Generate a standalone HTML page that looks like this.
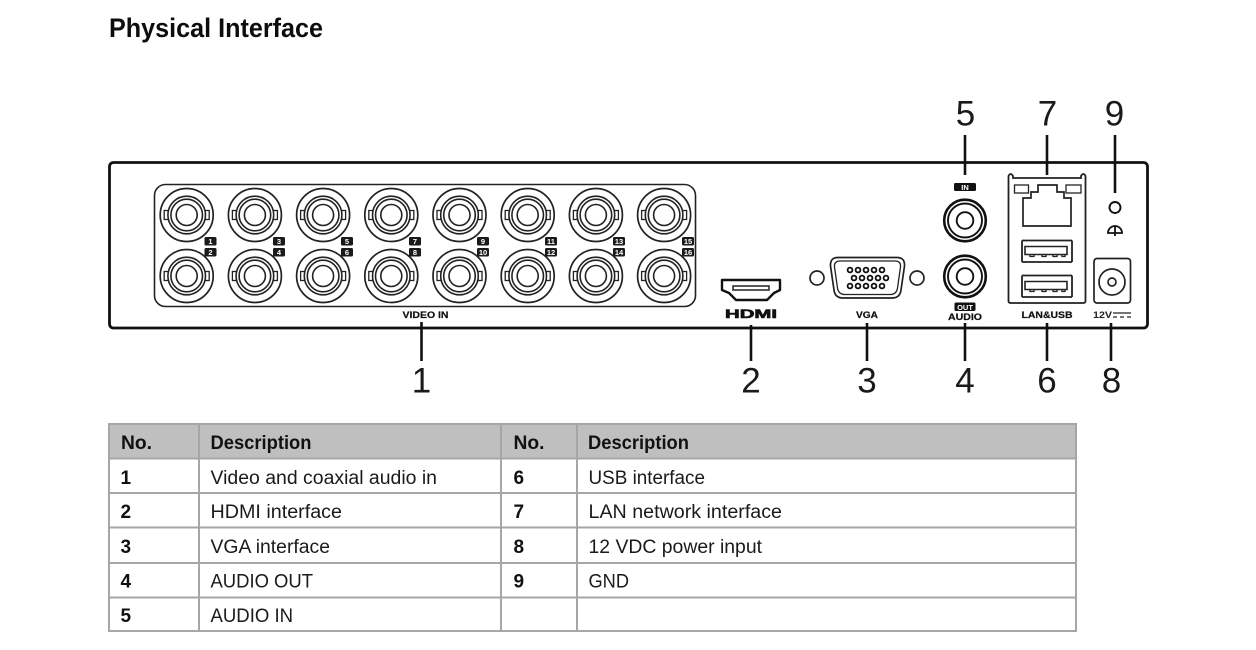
<!DOCTYPE html>
<html><head><meta charset="utf-8"><style>
html,body{margin:0;padding:0;background:#fff;width:1256px;height:650px;overflow:hidden}
svg{display:block}
text{font-family:"Liberation Sans",sans-serif;fill:#111}
.n{font-size:35px;text-anchor:middle;fill:#1a1a1a}
.b{font-weight:bold}
.t{font-size:19px;fill:#1a1a1a}
.h{font-size:19px;font-weight:bold;fill:#111}
.sm{font-size:9px;font-weight:bold;text-anchor:middle;fill:#111;stroke:#111;stroke-width:.2}
.w{font-size:7.5px;font-weight:bold;fill:#fff;text-anchor:middle}
.l{stroke:#111;stroke-width:2.6;fill:none}
.s{stroke:#222;stroke-width:1.7;fill:none}
.g{stroke:#a6a6a6;stroke-width:2;fill:none}
</style></head><body>
<svg width="1256" height="650" viewBox="0 0 1256 650" xmlns="http://www.w3.org/2000/svg">
<defs>
<g id="bnc" fill="none" stroke="#222">
<circle r="26.5" stroke-width="1.7"/>
<rect x="-22.5" y="-4.5" width="4" height="9" stroke-width="1.3"/>
<rect x="18.5" y="-4.5" width="4" height="9" stroke-width="1.3"/>
<circle r="18.8" stroke-width="1.6" fill="#fff"/>
<circle r="15.8" stroke-width="1.6"/>
<circle r="10.5" stroke-width="1.6"/>
</g>
<g id="rca" fill="none" stroke="#111">
<circle r="20.8" stroke-width="2.6"/>
<circle r="17" stroke-width="1.9"/>
<circle r="8.3" stroke-width="1.9"/>
</g>
<g id="usb" fill="none" stroke="#222">
<path d="M0 0H50M0 0V21.5M50 0V21.5M0 21.5H50" stroke-width="1.8"/>
<path d="M3 6H45V14H3Z" stroke-width="1.6"/>
<path d="M8 14v2h4v-2M20 14v2h4v-2M31 14v2h4v-2M40 14v2h3v-2" stroke-width="1.3"/>
</g>
</defs>

<text x="109" y="37" font-size="27" font-weight="bold" textLength="214" lengthAdjust="spacingAndGlyphs" style="fill:#0d0d0d">Physical Interface</text>

<rect x="109.5" y="162.5" width="1038" height="165.5" rx="4" fill="none" stroke="#111" stroke-width="2.8"/>
<rect x="154.5" y="184.5" width="541" height="122" rx="11" fill="none" stroke="#222" stroke-width="1.6"/>

<!-- BNC -->
<use href="#bnc" x="186.7" y="215"/><use href="#bnc" x="186.7" y="276"/>
<use href="#bnc" x="254.9" y="215"/><use href="#bnc" x="254.9" y="276"/>
<use href="#bnc" x="323.1" y="215"/><use href="#bnc" x="323.1" y="276"/>
<use href="#bnc" x="391.3" y="215"/><use href="#bnc" x="391.3" y="276"/>
<use href="#bnc" x="459.5" y="215"/><use href="#bnc" x="459.5" y="276"/>
<use href="#bnc" x="527.7" y="215"/><use href="#bnc" x="527.7" y="276"/>
<use href="#bnc" x="595.9" y="215"/><use href="#bnc" x="595.9" y="276"/>
<use href="#bnc" x="664.1" y="215"/><use href="#bnc" x="664.1" y="276"/>

<!-- channel badges -->
<g fill="#1a1a1a">
<rect x="204.5" y="237" width="12" height="8.5" rx="1.5"/><rect x="204.5" y="248" width="12" height="8.5" rx="1.5"/>
<rect x="273" y="237" width="12" height="8.5" rx="1.5"/><rect x="273" y="248" width="12" height="8.5" rx="1.5"/>
<rect x="341" y="237" width="12" height="8.5" rx="1.5"/><rect x="341" y="248" width="12" height="8.5" rx="1.5"/>
<rect x="409" y="237" width="12" height="8.5" rx="1.5"/><rect x="409" y="248" width="12" height="8.5" rx="1.5"/>
<rect x="477" y="237" width="12" height="8.5" rx="1.5"/><rect x="477" y="248" width="12" height="8.5" rx="1.5"/>
<rect x="545" y="237" width="12" height="8.5" rx="1.5"/><rect x="545" y="248" width="12" height="8.5" rx="1.5"/>
<rect x="613" y="237" width="12" height="8.5" rx="1.5"/><rect x="613" y="248" width="12" height="8.5" rx="1.5"/>
<rect x="682" y="237" width="12" height="8.5" rx="1.5"/><rect x="682" y="248" width="12" height="8.5" rx="1.5"/>
</g>
<g>
<text class="w" x="210.5" y="244.2">1</text><text class="w" x="210.5" y="255.2">2</text>
<text class="w" x="279" y="244.2">3</text><text class="w" x="279" y="255.2">4</text>
<text class="w" x="347" y="244.2">5</text><text class="w" x="347" y="255.2">6</text>
<text class="w" x="415" y="244.2">7</text><text class="w" x="415" y="255.2">8</text>
<text class="w" x="483" y="244.2">9</text><text class="w" x="483" y="255.2">10</text>
<text class="w" x="551" y="244.2">11</text><text class="w" x="551" y="255.2">12</text>
<text class="w" x="619" y="244.2">13</text><text class="w" x="619" y="255.2">14</text>
<text class="w" x="688" y="244.2">15</text><text class="w" x="688" y="255.2">16</text>
</g>

<text class="sm" x="425.5" y="318" textLength="46" lengthAdjust="spacingAndGlyphs">VIDEO IN</text>

<!-- HDMI -->
<path d="M722 280H780V290L774 293L767 300H736L729 293L722 290Z" fill="none" stroke="#111" stroke-width="2.4" stroke-linejoin="round"/>
<rect x="733" y="286" width="36" height="4" fill="none" stroke="#222" stroke-width="1.5"/>
<text x="725" y="318" font-size="12" font-weight="900" textLength="52" lengthAdjust="spacingAndGlyphs" style="fill:#111;stroke:#111;stroke-width:.6">HDMI</text>

<!-- VGA -->
<circle cx="817" cy="278" r="7" class="s"/>
<circle cx="917" cy="278" r="7" class="s"/>
<path d="M838 257.5H897Q905 257.5 904.5 266L901 290Q900 298 892 298H843Q835 298 834 290L830.5 266Q830 257.5 838 257.5Z" class="s"/>
<path d="M840 261H895Q901 261 900.5 267L897.5 288Q896.5 294.5 890 294.5H845Q838.5 294.5 837.5 288L834.5 267Q834 261 840 261Z" class="s" style="stroke-width:1.3"/>
<g fill="none" stroke="#111" stroke-width="1.8">
<circle cx="850" cy="270" r="2.4"/><circle cx="858" cy="270" r="2.4"/><circle cx="866" cy="270" r="2.4"/><circle cx="874" cy="270" r="2.4"/><circle cx="882" cy="270" r="2.4"/>
<circle cx="854" cy="278" r="2.4"/><circle cx="862" cy="278" r="2.4"/><circle cx="870" cy="278" r="2.4"/><circle cx="878" cy="278" r="2.4"/><circle cx="886" cy="278" r="2.4"/>
<circle cx="850" cy="286" r="2.4"/><circle cx="858" cy="286" r="2.4"/><circle cx="866" cy="286" r="2.4"/><circle cx="874" cy="286" r="2.4"/><circle cx="882" cy="286" r="2.4"/>
</g>
<text class="sm" x="867" y="318" textLength="22" lengthAdjust="spacingAndGlyphs">VGA</text>

<!-- Audio -->
<rect x="954" y="183" width="22" height="8" rx="1.5" fill="#111"/>
<text class="w" x="965" y="190">IN</text>
<use href="#rca" x="965" y="220.5"/>
<use href="#rca" x="965" y="276.5"/>
<rect x="954.5" y="302.5" width="21" height="8.5" rx="1.5" fill="#111"/>
<text class="w" x="965" y="310">OUT</text>
<text class="sm" x="965" y="320" textLength="34" lengthAdjust="spacingAndGlyphs">AUDIO</text>

<!-- LAN USB -->
<path d="M1008.5 176Q1010.5 172 1013 176V178H1081V176Q1083.5 172 1085.5 176V301Q1085.5 303 1083 303H1011Q1008.5 303 1008.5 301Z" fill="none" stroke="#222" stroke-width="1.8"/>
<rect x="1014.5" y="185" width="14" height="8" class="s" style="stroke-width:1.3"/>
<rect x="1066" y="185" width="15" height="8" class="s" style="stroke-width:1.3"/>
<path d="M1023 226V198H1031V192H1038V185H1057V192H1064V198H1071V226Z" class="s"/>
<use href="#usb" x="1022" y="240.5"/>
<use href="#usb" x="1022" y="275.5"/>
<text class="sm" x="1047" y="318" textLength="51" lengthAdjust="spacingAndGlyphs">LAN&amp;USB</text>

<!-- GND -->
<circle cx="1115" cy="207.5" r="5.5" fill="none" stroke="#111" stroke-width="1.9"/>
<path d="M1108 233A7 7 0 0 1 1122 233Z M1115 226V236" fill="none" stroke="#111" stroke-width="1.8"/>

<!-- Power -->
<rect x="1094" y="258.5" width="36.5" height="44.5" rx="3" class="s"/>
<circle cx="1112" cy="282" r="13" class="s"/>
<circle cx="1112" cy="282" r="4" class="s"/>
<text x="1093" y="318" font-size="9" font-weight="bold" textLength="19" lengthAdjust="spacingAndGlyphs" style="fill:#222">12V</text>
<path d="M1113 313H1131" stroke="#222" stroke-width="1.2"/>
<path d="M1113 317H1131" stroke="#222" stroke-width="1.2" stroke-dasharray="4 3"/>

<!-- leaders -->
<path class="l" d="M965 135V175M1047 135V175M1115 135V193M421.5 322V361M751 325V361M867 323V361M965 323V361M1047 323V361M1111 323V361"/>
<text class="n" x="965.5" y="125.500">5</text>
<text class="n" x="1047.5" y="125.500">7</text>
<text class="n" x="1114.5" y="125.500">9</text>
<text class="n" x="421.5" y="392.500">1</text>
<text class="n" x="751" y="392.500">2</text>
<text class="n" x="867" y="392.500">3</text>
<text class="n" x="965" y="392.500">4</text>
<text class="n" x="1047" y="392.500">6</text>
<text class="n" x="1111.5" y="392.500">8</text>

<!-- table -->
<rect x="109" y="424" width="967" height="34" fill="#bfbfbf"/>
<path class="g" d="M109 424H1076M109 458.500H1076M109 493H1076M109 527.500H1076M109 563H1076M109 597.500H1076M109 631H1076M109 423V632M199 423V632M501 423V632M577 423V632M1076 423V632"/>

<g>
<text class="h" x="121" y="449" textLength="31" lengthAdjust="spacingAndGlyphs">No.</text>
<text class="h" x="210.500" y="449" textLength="101" lengthAdjust="spacingAndGlyphs">Description</text>
<text class="h" x="513.500" y="449" textLength="31" lengthAdjust="spacingAndGlyphs">No.</text>
<text class="h" x="588" y="449" textLength="101" lengthAdjust="spacingAndGlyphs">Description</text>
<text class="h" x="120.500" y="484">1</text>
<text class="h" x="120.500" y="518">2</text>
<text class="h" x="120.500" y="553">3</text>
<text class="h" x="120.500" y="587.500">4</text>
<text class="h" x="120.500" y="622">5</text>
<text class="h" x="513.500" y="484">6</text>
<text class="h" x="513.500" y="518">7</text>
<text class="h" x="513.500" y="553">8</text>
<text class="h" x="513.500" y="587.500">9</text>
</g>
<text class="t" x="210.500" y="484" textLength="226.500" lengthAdjust="spacingAndGlyphs">Video and coaxial audio in</text>
<text class="t" x="210.500" y="518" textLength="131.500" lengthAdjust="spacingAndGlyphs">HDMI interface</text>
<text class="t" x="210.500" y="553" textLength="119.500" lengthAdjust="spacingAndGlyphs">VGA interface</text>
<text class="t" x="210.500" y="587.500" textLength="102.500" lengthAdjust="spacingAndGlyphs">AUDIO OUT</text>
<text class="t" x="210.500" y="622" textLength="82.500" lengthAdjust="spacingAndGlyphs">AUDIO IN</text>
<text class="t" x="588.500" y="484" textLength="116.500" lengthAdjust="spacingAndGlyphs">USB interface</text>
<text class="t" x="588.500" y="518" textLength="193.500" lengthAdjust="spacingAndGlyphs">LAN network interface</text>
<text class="t" x="588.500" y="553" textLength="173.500" lengthAdjust="spacingAndGlyphs">12 VDC power input</text>
<text class="t" x="588.500" y="587.500" textLength="40.500" lengthAdjust="spacingAndGlyphs">GND</text>
</svg>
</body></html>
